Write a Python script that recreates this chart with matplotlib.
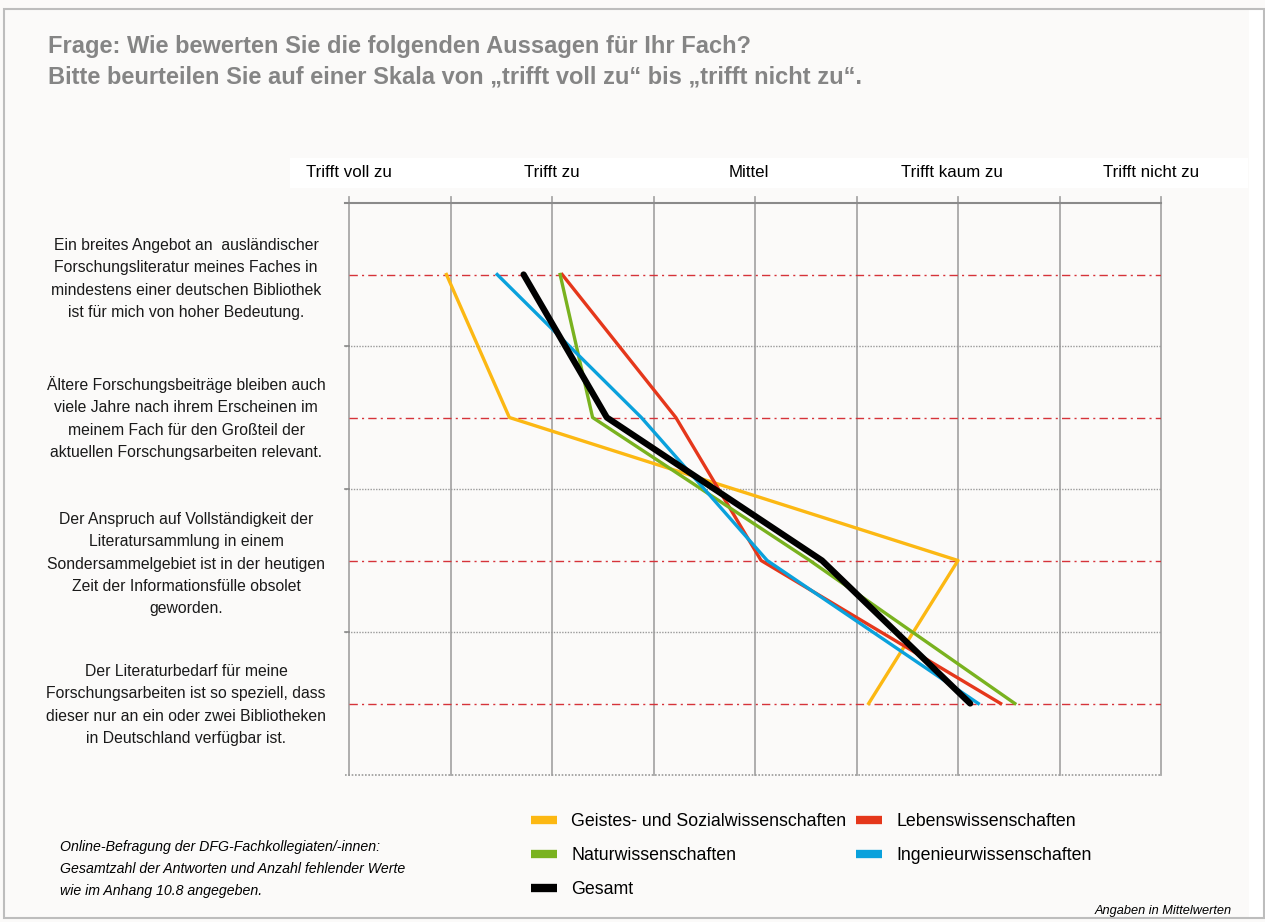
import numpy as np
import matplotlib
matplotlib.use("Agg")
import matplotlib.pyplot as plt
from matplotlib.patches import Rectangle
from matplotlib.lines import Line2D

plt.rcParams['font.family'] = ['Liberation Sans', 'DejaVu Sans']

# data (Mittelwerte, 1 = trifft voll zu ... 5 = trifft nicht zu)
statements = [
    "Ein breites Angebot an  ausländischer\nForschungsliteratur meines Faches in\nmindestens einer deutschen Bibliothek\nist für mich von hoher Bedeutung.",
    "Ältere Forschungsbeiträge bleiben auch\nviele Jahre nach ihrem Erscheinen im\nmeinem Fach für den Großteil der\naktuellen Forschungsarbeiten relevant.",
    "Der Anspruch auf Vollständigkeit der\nLiteratursammlung in einem\nSondersammelgebiet ist in der heutigen\nZeit der Informationsfülle obsolet\ngeworden.",
    "Der Literaturbedarf für meine\nForschungsarbeiten ist so speziell, dass\ndieser nur an ein oder zwei Bibliotheken\nin Deutschland verfügbar ist.",
]
scale_labels = ["Trifft voll zu", "Trifft zu", "Mittel", "Trifft kaum zu", "Trifft nicht zu"]
scale_pos = [1, 2, 2.97, 3.97, 4.95]

geistes = [1.48, 1.79, 4.00, 3.56]
lebens = [2.05, 2.61, 3.03, 4.21]
natur = [2.04, 2.20, 3.27, 4.28]
ingenieur = [1.73, 2.44, 3.06, 4.10]
gesamt = [1.86, 2.27, 3.33, 4.06]

W, H = 1265, 922
fig = plt.figure(figsize=(W / 100, H / 100), dpi=100, facecolor='#fbfaf9')

def fx(px):
    return px / W

def fy(py):
    return 1 - py / H

# outer frame and header band (behind the axes)
fig.patches.append(Rectangle((fx(4), fy(918)), fx(1260), 909 / H, transform=fig.transFigure,
                             fill=False, edgecolor='#bdbdbd', lw=1.5, zorder=-1))
fig.patches.append(Rectangle((fx(1249), fy(918)), fx(14), 908 / H, transform=fig.transFigure,
                             facecolor='white', edgecolor='none', zorder=-2))
fig.patches.append(Rectangle((fx(290), fy(188)), fx(958), 30 / H, transform=fig.transFigure,
                             facecolor='white', edgecolor='none', zorder=-2))

fig.text(fx(48), fy(47), "Frage: Wie bewerten Sie die folgenden Aussagen für Ihr Fach?",
         fontsize=17, fontweight='bold', color='#858585', va='center')
fig.text(fx(48), fy(77), "Bitte beurteilen Sie auf einer Skala von \u201etrifft voll zu\u201c bis \u201etrifft nicht zu\u201c.",
         fontsize=17, fontweight='bold', color='#858585', va='center')

ax = fig.add_axes([fx(349), fy(775), fx(1161 - 349), (775 - 203) / H])
ax.set_facecolor('#fbfaf9')
ax.set_xlim(1, 5)
ax.set_ylim(3.5, -0.5)
for s in ax.spines.values():
    s.set_visible(False)
ax.set_xticks([])
ax.set_yticks([])

# grid
for x in np.arange(1, 5.01, 0.5):
    ax.plot([x, x], [3.5, -0.54], color='#a8a8a8', lw=1.3, clip_on=False, zorder=1)
ax.plot([0.98, 5], [-0.5, -0.5], color='#8a8a8a', lw=1.5, clip_on=False, zorder=1)
ax.plot([0.98, 5], [3.5, 3.5], color='#9a9a9a', lw=1.2, ls=(0, (1, 1)), clip_on=False, zorder=1)
for yb in [0.5, 1.5, 2.5]:
    ax.plot([0.98, 5], [yb, yb], color='#9a9a9a', lw=1.0, ls=(0, (1, 1)), clip_on=False, zorder=1)
    ax.plot([0.98, 1], [yb, yb], color='#8a8a8a', lw=1.2, clip_on=False, zorder=1)
for yc in range(4):
    ax.plot([1, 5], [yc, yc], color='#d6333a', lw=1.0, ls=(0, (6, 3, 1.5, 3)), zorder=2)

y = np.arange(4)
ax.plot(geistes, y, color='#fcb813', lw=2.4, zorder=3)
ax.plot(lebens, y, color='#e5371b', lw=2.4, zorder=3)
ax.plot(natur, y, color='#79b21f', lw=2.4, zorder=3)
ax.plot(ingenieur, y, color='#0aa1dc', lw=2.4, zorder=3)
ax.plot(gesamt, y, color='black', lw=4.5, solid_capstyle='round', zorder=4)

# scale labels above the plot
for xp, lab in zip(scale_pos, scale_labels):
    ax.text(xp, -0.5 - 31 / 143, lab, ha='center', va='center',
            fontsize=12.2, color='black', clip_on=False)

# statement labels
label_y = [279, 418, 564, 705]
for ly, s in zip(label_y, statements):
    fig.text(fx(186), fy(ly), s, ha='center', va='center',
             fontsize=11.3, linespacing=1.6, color='#1a1a1a')

# legend
handles = [
    Line2D([], [], color='#fcb813', lw=6, solid_capstyle='butt'),
    Line2D([], [], color='#79b21f', lw=6, solid_capstyle='butt'),
    Line2D([], [], color='black', lw=6, solid_capstyle='butt'),
    Line2D([], [], color='#e5371b', lw=6, solid_capstyle='butt'),
    Line2D([], [], color='#0aa1dc', lw=6, solid_capstyle='butt'),
]
labels = ["Geistes- und Sozialwissenschaften", "Naturwissenschaften", "Gesamt",
          "Lebenswissenschaften", "Ingenieurwissenschaften"]
fig.legend(handles, labels, ncol=2, loc='upper left', bbox_to_anchor=(fx(515), fy(797)),
           frameon=False, fontsize=12.8, handlelength=1.46, handletextpad=0.8,
           columnspacing=0.55, labelspacing=0.95)

fig.text(fx(60), fy(869), "Online-Befragung der DFG-Fachkollegiaten/-innen:\nGesamtzahl der Antworten und Anzahl fehlender Werte\nwie im Anhang 10.8 angegeben.",
         fontsize=10.2, style='italic', va='center', linespacing=1.75, ha='left')
fig.text(fx(1232), fy(911), "Angaben in Mittelwerten", fontsize=9.2, style='italic',
         ha='right', va='center')

fig.savefig("out.png", dpi=100, facecolor=fig.get_facecolor())
